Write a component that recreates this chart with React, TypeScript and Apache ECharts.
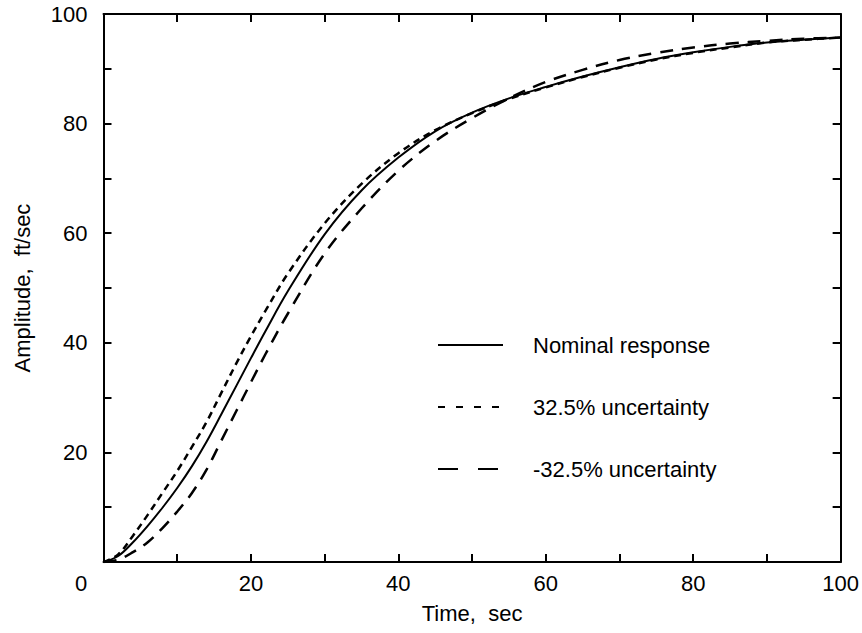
import React, { useEffect, useRef } from "react";
import * as echarts from "echarts";

const times = [0, 2, 4, 6, 8, 10, 12, 14, 16, 18, 20, 22, 25, 30, 35, 40, 45, 50, 55, 60, 65, 70, 75, 80, 85, 90, 95, 100];
const nominal = [0, 1.1, 3.6, 6.6, 9.9, 13.5, 17.5, 22, 27, 32.1, 37.2, 42.2, 49.4, 59.8, 67.8, 73.8, 78.6, 82, 84.6, 86.7, 88.6, 90.3, 91.8, 93, 94, 94.8, 95.3, 95.7];
const plus325 = [0, 1.4, 4.8, 8.6, 12.6, 16.6, 21, 25.6, 30.9, 36.2, 41.2, 45.9, 52.6, 61.8, 69, 74.6, 78.8, 81.9, 84.5, 86.6, 88.5, 90.2, 91.7, 92.9, 93.9, 94.8, 95.3, 95.7];
const minus325 = [0, 0.4, 1.8, 3.6, 6.2, 9.2, 12.6, 16.9, 22.2, 27.5, 32.8, 38, 45.3, 56.3, 64.5, 71.4, 76.8, 81, 84.6, 87.6, 89.8, 91.6, 92.9, 93.9, 94.6, 95.1, 95.5, 95.7];
const seriesNames = ["Nominal response", "32.5% uncertainty", "-32.5% uncertainty"];

const FONT = "'Liberation Sans', Arial, Helvetica, sans-serif";

export default function App() {
  const ref = useRef<HTMLDivElement>(null);
  useEffect(() => {
    if (!ref.current) return;
    const chart = echarts.init(ref.current, null, { renderer: "svg" });
    const zip = (ys: number[]) => times.map((t, i) => [t, ys[i]]);
    const mkLine = () => ({ show: true, onZero: false, lineStyle: { color: "#000", width: 2 } });
    const mkTick = () => ({ show: true, inside: true, length: 8, lineStyle: { color: "#000", width: 2 } });
    const lineSeries = (name: string, ys: number[], type: any, width: number) => ({
      name,
      type: "line",
      data: zip(ys),
      smooth: 0.35,
      symbol: "none",
      showSymbol: false,
      lineStyle: { color: "#000", width, type },
      itemStyle: { color: "#000" },
    });
    chart.setOption({
      animation: false,
      backgroundColor: "#fff",
      textStyle: { fontFamily: FONT },
      grid: { left: 103.5, right: 20.5, top: 14, bottom: 71 },
      xAxis: [
        {
          type: "value",
          min: 0,
          max: 100,
          interval: 10,
          position: "bottom",
          axisLine: mkLine(),
          axisTick: mkTick(),
          splitLine: { show: false },
          name: "Time,  sec",
          nameLocation: "middle",
          nameGap: 40,
          nameTextStyle: { fontSize: 22, color: "#000", fontFamily: FONT },
          axisLabel: {
            margin: 10,
            fontSize: 22,
            color: "#000",
            fontFamily: FONT,
            formatter: (v: number) => (v === 0 ? "{o|0}" : v % 20 === 0 ? String(v) : ""),
            rich: { o: { fontSize: 22, color: "#000", fontFamily: FONT, padding: [0, 45, 0, 0] } },
          },
        },
        {
          type: "value",
          min: 0,
          max: 100,
          interval: 10,
          position: "top",
          axisLine: mkLine(),
          axisTick: mkTick(),
          splitLine: { show: false },
          axisLabel: { show: false },
        },
      ],
      yAxis: [
        {
          type: "value",
          min: 0,
          max: 100,
          interval: 10,
          position: "left",
          axisLine: mkLine(),
          axisTick: mkTick(),
          splitLine: { show: false },
          name: "Amplitude,  ft/sec",
          nameLocation: "middle",
          nameGap: 70,
          nameTextStyle: { fontSize: 22, color: "#000", fontFamily: FONT },
          axisLabel: {
            margin: 16,
            fontSize: 22,
            color: "#000",
            fontFamily: FONT,
            padding: [10, 0, 0, 0],
            formatter: (v: number) => (v !== 0 && v % 20 === 0 ? String(v) : ""),
          },
        },
        {
          type: "value",
          min: 0,
          max: 100,
          interval: 10,
          position: "right",
          axisLine: mkLine(),
          axisTick: mkTick(),
          splitLine: { show: false },
          axisLabel: { show: false },
        },
      ],
      legend: {
        orient: "vertical",
        left: 432,
        top: 329,
        itemWidth: 65,
        itemHeight: 14,
        itemGap: 40,
        itemStyle: { color: "transparent", borderWidth: 0, opacity: 0 },
        textStyle: { fontSize: 22, color: "#000", fontFamily: FONT, padding: [0, 0, 0, 25] },
        data: [
          { name: seriesNames[0], lineStyle: { color: "#000", width: 2, type: "solid" } },
          { name: seriesNames[1], lineStyle: { color: "#000", width: 2, type: [7, 11] } },
          { name: seriesNames[2], lineStyle: { color: "#000", width: 2, type: [20, 20] } },
        ],
      },
      series: [
        lineSeries(seriesNames[0], nominal, "solid", 2),
        lineSeries(seriesNames[1], plus325, [7, 5], 2.5),
        lineSeries(seriesNames[2], minus325, [13, 9], 2.5),
      ],
    });
    return () => chart.dispose();
  }, []);
  return <div ref={ref} style={{ position: "fixed", left: 0, top: 0, width: 862, height: 633 }} />;
}
